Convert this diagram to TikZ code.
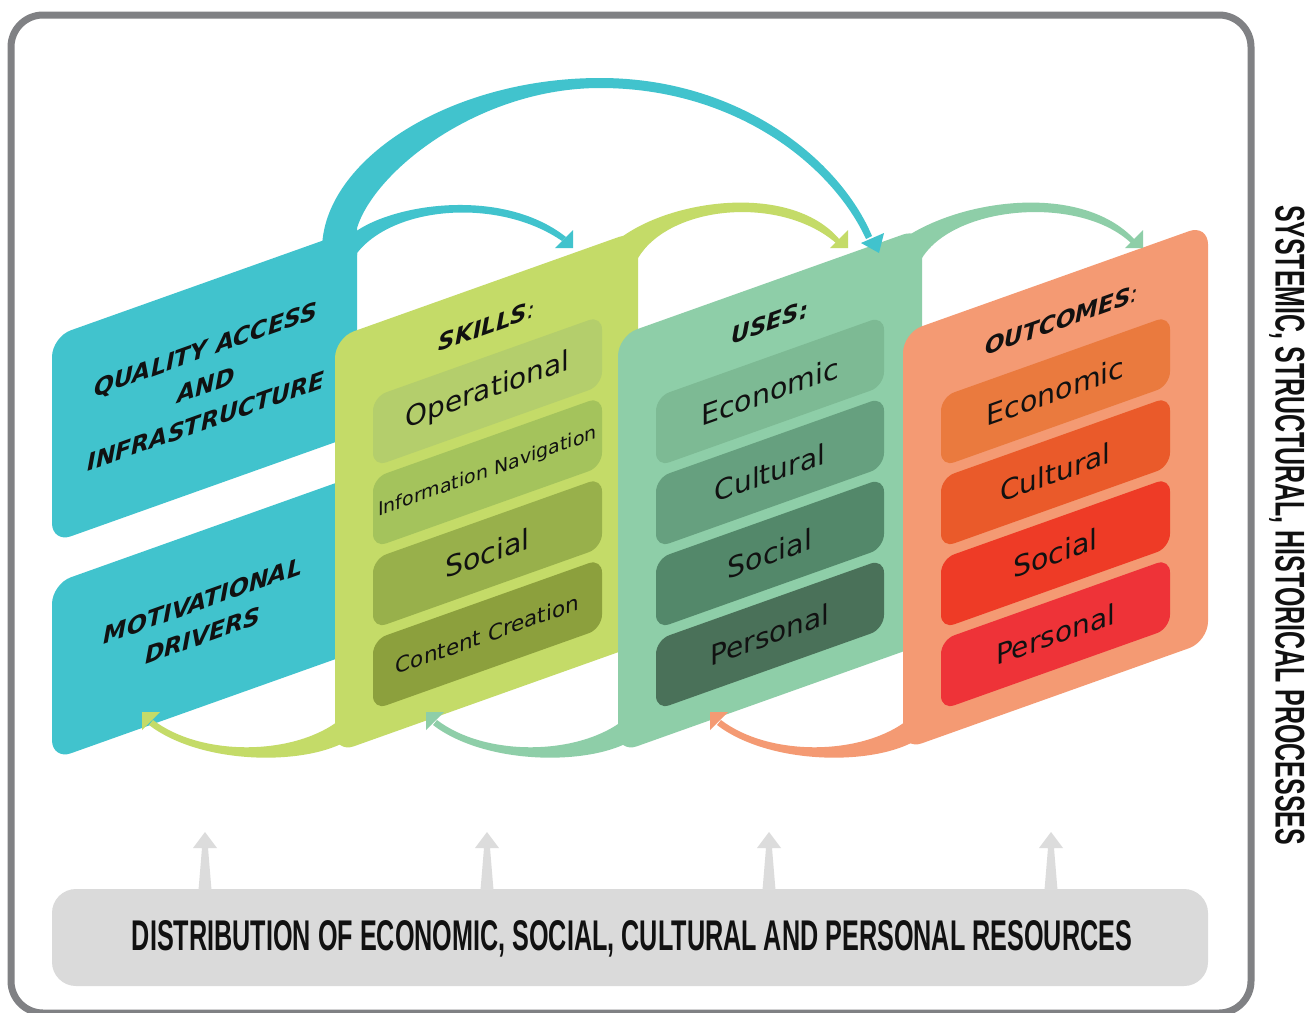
\documentclass[tikz,border=0pt]{standalone}
\usepackage{fontspec}
\setmainfont{DejaVu Sans}
\newfontfamily\condfont{Liberation Sans}
\usepackage{graphicx}
\definecolor{blueC}{HTML}{41C3CD}
\definecolor{skillsC}{HTML}{C4DB68}
\definecolor{skA}{HTML}{B4CE6C}
\definecolor{skB}{HTML}{A4C35C}
\definecolor{skC}{HTML}{98B04B}
\definecolor{skD}{HTML}{8CA03D}
\definecolor{usesC}{HTML}{8ECEA8}
\definecolor{usA}{HTML}{7DBA94}
\definecolor{usB}{HTML}{66A07F}
\definecolor{usC}{HTML}{53886A}
\definecolor{usD}{HTML}{4A7159}
\definecolor{outC}{HTML}{F49A73}
\definecolor{ocA}{HTML}{EA7A3E}
\definecolor{ocB}{HTML}{EA5A2A}
\definecolor{ocC}{HTML}{EE3B26}
\definecolor{ocD}{HTML}{EE3338}
\definecolor{barC}{HTML}{DADADA}
\definecolor{garrowC}{HTML}{DCDCDC}
\definecolor{frameC}{HTML}{808184}
\definecolor{inkC}{HTML}{111111}
\newcommand\slpanel[5]{\fill[#5,rounded corners=20] (#1,{(#2+#4)/2}) -- (#1,#2) -- (#3,{#2-0.356*(#3-#1)}) -- (#3,{#4-0.356*(#3-#1)}) -- (#1,#4) -- cycle;}
\newcommand\slsub[7]{%
  \fill[#4,rounded corners=14] (#1,{#2+35}) -- (#1,#2) -- (#3,{#2-0.356*(#3-#1)}) -- (#3,{#2+70-0.356*(#3-#1)}) -- (#1,{#2+70}) -- cycle;
  \node[yslant=0.356,inner sep=0,text=inkC,font=\fontsize{#6}{#6}\selectfont] (#5) at ({(#1+#3)/2},{#2+35-0.178*(#3-#1)}) {#7};}
\tikzset{
  blt/.style={yslant=0.356,inner sep=0,text=inkC,align=center,font=\fontsize{23.5}{36}\selectfont\bfseries\itshape},
  ttl/.style={yslant=0.356,inner sep=0,text=inkC,font=\fontsize{23}{23}\selectfont\bfseries\itshape},
  garrow/.style={fill=garrowC}
}
\begin{document}
\begin{tikzpicture}[x=1pt,y=-1pt]
\useasboundingbox (0,0) rectangle (1316,1012);
\fill[white] (0,0) rectangle (1316,1012);
% blue panels
\slpanel{52}{337}{357}{543}{blueC}
\slpanel{52}{584}{357}{760}{blueC}
\node[blt] (qa) at (206,385) {QUALITY ACCESS\\AND\\INFRASTRUCTURE};
\node[blt,font=\fontsize{23.5}{35}\selectfont\bfseries\itshape] (md) at (203,618) {MOTIVATIONAL\\DRIVERS};
% skills
\slpanel{335}{338}{638}{753}{skillsC}
\node[ttl] (skills) at (487,326) {SKILLS{\mdseries:}};
\slsub{373}{397}{602}{skA}{sk1}{28}{Operational}
\slsub{373}{478}{602}{skB}{sk2}{19}{Information Navigation}
\slsub{373}{559}{602}{skC}{sk3}{28.5}{Social}
\slsub{373}{640}{602}{skD}{sk4}{21.5}{Content Creation}
% uses
\slpanel{618}{336}{922}{753}{usesC}
\node[ttl] (uses) at (770,322) {USES:};
\slsub{656}{397}{884}{usA}{us1}{28.5}{Economic}
\slsub{656}{478}{884}{usB}{us2}{28}{Cultural}
\slsub{656}{559}{884}{usC}{us3}{28.5}{Social}
\slsub{656}{640}{884}{usD}{us4}{28}{Personal}
% outcomes
\slpanel{903}{333}{1208}{750}{outC}
\node[ttl] (outc) at (1062,320) {OUTCOMES{\mdseries:}};
\slsub{941}{397}{1170}{ocA}{oc1}{28.5}{Economic}
\slsub{941}{478}{1170}{ocB}{oc2}{28}{Cultural}
\slsub{941}{559}{1170}{ocC}{oc3}{28.5}{Social}
\slsub{941}{640}{1170}{ocD}{oc4}{28}{Personal}
% top arcs
\fill[blueC] (322,255) -- (322,250) .. controls (322,160) and (450,78) .. (600,78) .. controls (740,78) and (840,160) .. (872,236) -- (866,239) .. controls (832,165) and (735,88) .. (600,88) .. controls (480,88) and (375,170) .. (357,228) -- (357,255) -- cycle;
\fill[blueC] (861,243) -- (884,233) -- (879,253) -- cycle;
\fill[blueC] (350,236) .. controls (385,205) and (500,185) .. (566,237) -- (562,241) .. controls (500,198) and (395,205) .. (357,253) -- cycle;
\fill[blueC] (555,248) -- (573,230) -- (573,248) -- cycle;
\fill[skillsC] (612,245) .. controls (660,200) and (790,180) .. (840,240) -- (836,243) .. controls (780,195) and (670,205) .. (638,258) -- cycle;
\fill[skillsC] (830,248) -- (848,230) -- (848,248) -- cycle;
\fill[usesC] (895,245) .. controls (950,200) and (1080,180) .. (1135,240) -- (1131,243) .. controls (1080,195) and (955,205) .. (922,258) -- cycle;
\fill[usesC] (1125,248) -- (1143,230) -- (1143,248) -- cycle;
% bottom arcs
\fill[skillsC] (345,742) .. controls (300,766) and (200,764) .. (149,725) -- (153,720) .. controls (200,756) and (290,756) .. (337,722) -- cycle;
\fill[skillsC] (142,712) -- (160,712) -- (142,730) -- cycle;
\begin{scope}[shift={(284,0)}]
\fill[usesC] (345,742) .. controls (300,766) and (200,764) .. (149,725) -- (153,720) .. controls (200,756) and (290,756) .. (337,722) -- cycle;
\fill[usesC] (142,712) -- (160,712) -- (142,730) -- cycle;
\end{scope}
\begin{scope}[shift={(568,0)}]
\fill[outC] (345,742) .. controls (300,766) and (200,764) .. (149,725) -- (153,720) .. controls (200,756) and (290,756) .. (337,722) -- cycle;
\fill[outC] (142,712) -- (160,712) -- (142,730) -- cycle;
\end{scope}
% resources bar
\fill[barC,rounded corners=24] (52,889) rectangle (1208,986);
\node[inner sep=0,text=inkC] (dist) at (632,939) {\resizebox{1000pt}{30pt}{\condfont\bfseries DISTRIBUTION OF ECONOMIC, SOCIAL, CULTURAL AND PERSONAL RESOURCES}};
\foreach \ax in {205,487,769,1051}{
  \fill[garrow] (\ax-6.5,890) -- (\ax+6.5,890) -- (\ax+3,848) -- (\ax+12,848) -- (\ax,832) -- (\ax-12,848) -- (\ax-3,848) -- cycle;
}
% frame
\draw[frameC,line width=7,rounded corners=32] (11,15) rectangle (1251,1013);
\node[rotate=-90,inner sep=0,text=inkC] (sys) at (1287,525) {\resizebox{640pt}{29pt}{\condfont\bfseries SYSTEMIC, STRUCTURAL, HISTORICAL PROCESSES}};
\end{tikzpicture}
\end{document}
